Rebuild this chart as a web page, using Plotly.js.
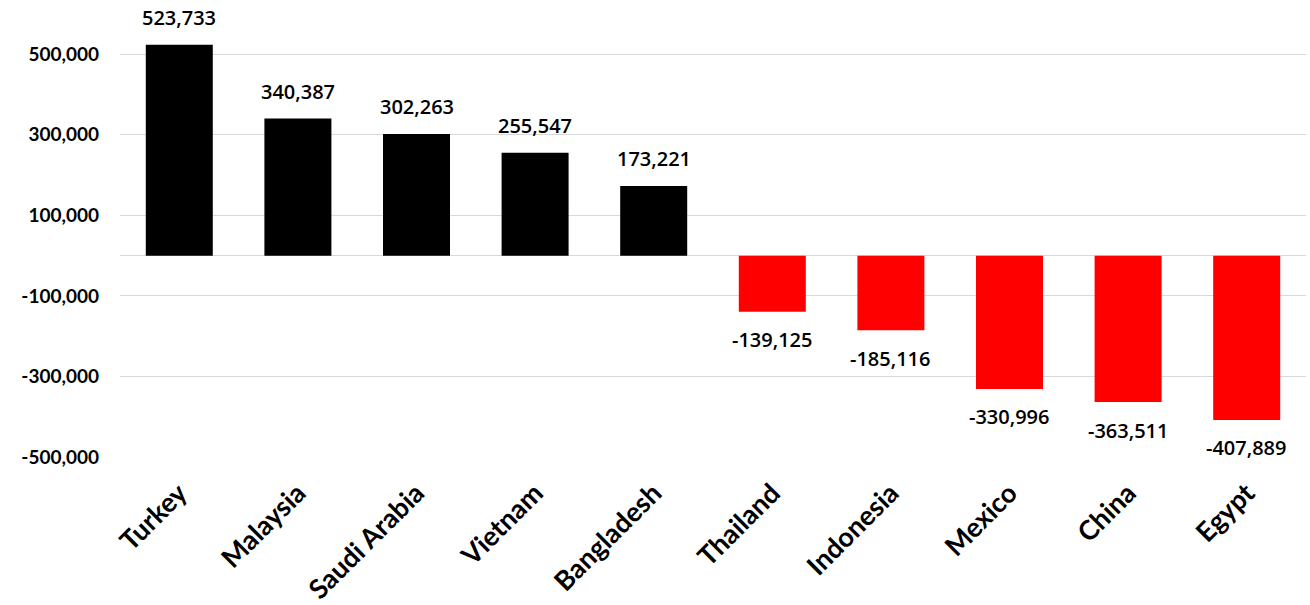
<!DOCTYPE html>
<html>
<head>
<meta charset="utf-8">
<script src="https://cdn.plot.ly/plotly-3.0.1.min.js"></script>
<style>html,body{margin:0;padding:0;background:#fff;}#chart{width:1310px;height:605px;}</style>
</head>
<body>
<div id="chart"></div>
<script>
const countries = ["Turkey","Malaysia","Saudi Arabia","Vietnam","Bangladesh","Thailand","Indonesia","Mexico","China","Egypt"];
const values = [523733, 340387, 302263, 255547, 173221, -139125, -185116, -330996, -363511, -407889];
const yTicks = [500000, 300000, 100000, -100000, -300000, -500000];
const yTickText = ["500,000","300,000","100,000","-100,000","-300,000","-500,000"];

const colors = values.map(v => v >= 0 ? "#000000" : "#FF0000");
const fmt = v => v.toLocaleString("en-US");

const annotations = countries.map((c, i) => ({
  x: c, y: values[i], xref: "x", yref: "y",
  text: fmt(values[i]), showarrow: false,
  yanchor: "middle", yshift: values[i] >= 0 ? 27 : -28,
  font: {family: "'Open Sans', Lato, sans-serif", size: 20, color: "#000", weight: 600}
}));

const trace = {
  type: "bar", x: countries, y: values,
  marker: {color: colors, line: {width: 0}},
  hoverinfo: "x+y"
};

const layout = {
  width: 1310, height: 605,
  margin: {l: 120, r: 4, t: 14, b: 148},
  paper_bgcolor: "#fff", plot_bgcolor: "#fff",
  bargap: 0.435,
  showlegend: false,
  font: {family: "Lato, 'Open Sans', sans-serif", color: "#000"},
  xaxis: {
    type: "category", tickangle: -45, showgrid: false, zeroline: false,
    showline: false, ticks: "", ticklabelstandoff: 14,
    tickfont: {family: "Lato, 'Open Sans', sans-serif", size: 27, color: "#000", weight: 700}
  },
  yaxis: {
    range: [-500000, 600000],
    tickmode: "array", tickvals: yTicks, ticktext: yTickText,
    showgrid: true, gridcolor: "#d9d9d9", gridwidth: 1,
    zeroline: true, zerolinecolor: "#d9d9d9", zerolinewidth: 1,
    showline: false, ticks: "", ticklabelstandoff: 20,
    tickfont: {family: "Lato, 'Open Sans', sans-serif", size: 19, color: "#000", weight: 700}
  },
  annotations: annotations
};

Plotly.newPlot("chart", [trace], layout, {displayModeBar: false, staticPlot: true});
</script>
</body>
</html>
